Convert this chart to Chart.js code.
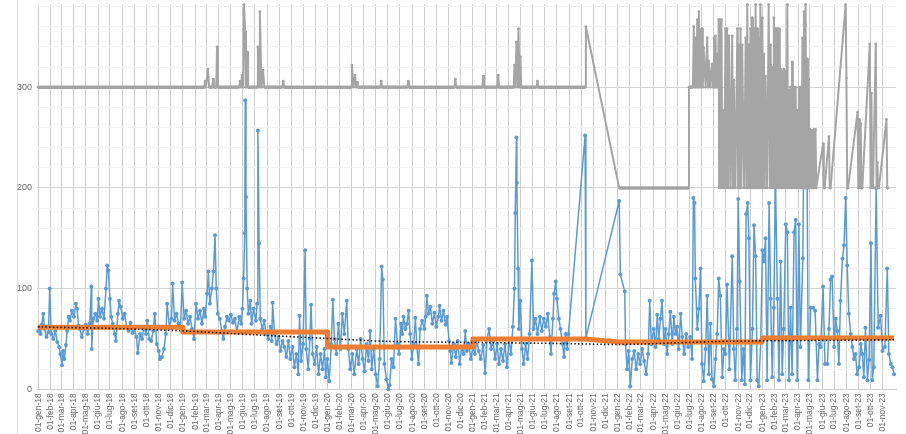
<!DOCTYPE html>
<html><head><meta charset="utf-8">
<script src="https://cdn.jsdelivr.net/npm/chart.js@4.4.1/dist/chart.umd.min.js"></script>
<style>
html,body{margin:0;padding:0;background:#fff;overflow:hidden;width:906px;height:434px;}
#wrap{position:absolute;left:0;top:-6px;width:906px;height:440px;}
</style></head><body>
<div id="wrap"><canvas id="c" width="906" height="440"></canvas></div>
<script>
// ---- tick labels (Italian month abbreviations), first tick 01-gen-18, last 01-nov-23
const monthAbbr = ['gen','feb','mar','apr','mag','giu','lug','ago','set','ott','nov','dic'];
const firstYear = 2018, monthCount = 71;

// ---- blue series: day offset from 01-gen-18, value
const blueDays = [0,3,6,9,13,16,21,26,29,33,38,43,48,53,56,60,63,66,70,73,77,80,85,90,95,98,102,105,110,115,120,125,130,134,135,139,144,149,152,156,161,166,171,174,177,181,184,188,193,196,201,204,208,213,218,223,228,233,238,243,248,251,257,262,267,272,275,280,285,290,294,299,304,307,312,317,322,325,331,336,339,344,349,354,359,363,368,373,378,383,388,393,398,403,408,413,418,
421,426,429,433,438,442,446,449,453,458,463,467,471,476,481,486,491,496,501,507,512,515,518,521,522,524,527,530,535,538,543,549,552,554,557,560,565,570,575,580,586,589,591,596,601,606,611,616,621,626,631,636,641,646,651,656,659,663,668,673,676,681,685,688,692,697,702,707,712,717,722,725,729,734,739,743,747,752,757,762,767,772,778,782,787,792,797,803,808,813,818,823,828,833,837,841,846,851,856,861,866,
869,873,878,883,886,891,896,901,906,910,915,918,921,926,930,934,938,942,947,951,955,959,963,968,974,977,980,984,989,994,999,1004,1009,1012,1017,1022,1027,1031,1036,1039,1042,1048,1053,1058,1063,1068,1073,1077,1081,1086,1091,1096,1101,1106,1111,1116,1122,1127,1132,1137,1142,1147,1152,1157,1162,1167,1172,1177,1182,1187,1192,1197,1201,1203,1206,1207,1210,1212,1216,1220,1224,1229,1234,1239,1245,1249,1254,1259,1265,1270,1275,1280,1285,1290,1293,1298,1301,1305,1308,1313,1317,1322,1326,1330,1334,1337,
1379,1381,1465,1468,1479,
1481,1485,1489,1493,1498,1503,1508,1513,1518,1523,1528,1533,1538,1542,1546,1552,1557,1561,1565,1569,1573,1578,1582,1586,1590,1594,1599,1603,1607,1611,1615,1620,1624,1629,1634,1639,1644,1649,1652,1655,1657,1662,1666,1670,1674,1678,1683,1687,1691,1695,1699,1704,1708,1712,1716,1720,1725,1729,1733,
1737,1743,1750,1754,1758,1762,1765,1769,1774,1778,1782,1785,1789,1792,1796,1801,1805,1809,1813,1817,1822,1826,1830,1834,1838,1843,1847,1851,1855,1859,1864,1868,1872,1876,1880,1885,1889,1893,1897,1901,1906,1910,1914,1918,1922,1928,1933,1937,1939,1942,1948,1954,1959,1965,1969,1973,1979,1984,1990,1994,1998,2002,2007,2011,2015,2019,2023,2028,2032,2036,2040,2044,2049,2053,2057,2061,2065,2070,2074,2078,2082,2086,2091,2095,2100,2103,2107,2113,2118,2124,2129,2135,2141,2145,2150,2154,2158];
const blueVals = [58,62,55,64,75,60,52,57,100,55,50,58,47,42,35,24,38,30,44,58,72,68,78,72,85,80,63,60,52,60,64,55,65,102,40,70,75,68,90,72,80,70,100,123,118,90,72,65,55,48,75,88,82,70,75,62,58,66,56,60,52,36,55,50,62,55,68,50,48,58,75,45,38,30,32,40,55,85,62,70,105,68,75,65,62,106,70,78,65,72,60,50,85,70,78,65,80,
72,95,117,85,100,117,153,100,75,70,58,50,62,72,68,74,66,70,57,72,65,80,110,155,287,191,100,75,88,65,80,68,85,257,145,70,60,68,55,50,62,48,86,55,45,52,38,48,42,32,48,30,42,22,35,15,73,28,45,138,40,20,50,84,35,25,42,15,35,20,40,12,30,8,45,89,50,35,65,40,75,55,88,40,20,35,15,40,25,50,30,18,45,28,58,20,40,15,3,30,122,
109,25,10,0,4,30,22,70,45,35,65,55,72,60,65,78,55,30,45,71,42,25,60,68,60,72,93,75,82,65,76,62,72,83,68,78,64,72,48,38,26,45,32,48,25,42,35,58,38,45,30,42,35,48,38,30,44,16,50,60,40,48,30,45,25,40,28,45,22,50,35,62,100,175,250,205,120,60,88,40,25,45,30,55,128,60,70,55,72,58,70,62,75,52,35,70,95,107,90,70,60,45,32,55,40,55,
252,51,187,114,97,
45,20,38,3,30,38,20,35,25,40,28,15,35,88,45,60,42,74,50,70,88,45,60,35,55,77,45,72,55,62,40,75,52,35,55,42,52,30,190,185,110,60,80,120,25,8,40,93,15,65,10,3,30,55,110,93,12,40,35,
104,20,132,40,9,60,189,107,9,40,5,174,185,150,9,60,163,132,9,3,48,138,127,150,9,185,90,12,81,210,90,9,127,15,60,164,156,9,81,15,156,168,9,164,42,130,362,240,200,9,81,81,78,9,45,42,102,25,25,60,109,112,42,70,58,25,88,130,143,190,123,75,55,42,30,35,15,22,45,35,12,61,9,29,145,9,22,200,61,73,38,42,120,35,25,22,15];

// ---- gray series: day offset, value
const grayDays = [0,419,421,423,428,431,439,441,443,449,451,453,507,509,511,514,517,519,522,524,527,529,531,552,554,557,559,563,567,570,616,618,620,789,791,795,799,802,804,806,863,865,867,931,933,935,1050,1052,1054,1120,1122,1124,1158,1160,1162,1199,1201,1203,1206,1209,1211,1214,1216,1218,1257,1259,1261,1337,1379,1381,1465,1640,
1641,1651,1653,1655,1657,1659,1662,1664,1666,1668,1670,1672,1674,1676,1678,1683,1687,1689,1691,1695,1699,1702,1704,1706,1708,1710,1712,1714,1716,
1717,1719,1721,1723,1725,1727,1730,1733,1735,1737,1740,1742,1746,1750,1752,1754,1758,1763,1765,1767,1769,1771,1773,1775,1780,1784,1786,1788,1790,1792,1794,1796,1798,1800,1802,1805,1807,1809,1811,1813,1815,1817,1819,1821,1823,1826,1828,1830,1832,1834,1838,1842,1845,1847,1849,1851,1853,1855,1857,1859,1861,1863,1866,1868,1870,1872,1874,1876,1878,1880,1882,1884,1887,1889,1891,1893,1895,1897,1899,1901,1903,1905,1908,1910,1912,1914,1916,1918,1920,1922,1925,1927,1929,1931,1933,1935,1937,1939,1941,1943,1945,1947,1950,1952,1954,1956,1958,1960,1962,1979,1981,1983,1994,1996,1998,2036,2038,2040,2042,2066,2068,2070,2072,2074,2076,2078,2097,2099,2101,2103,2105,2112,2114,2116,2118,2120,2139,2141,2143,2158];
const grayVals = [300,300,306,300,318,300,300,308,300,300,340,300,300,306,300,312,300,382,355,300,335,300,300,300,340,300,375,300,317,300,300,306,300,300,322,300,312,300,305,300,300,306,300,300,306,300,300,308,300,300,311,300,300,312,300,300,322,300,345,300,358,300,330,300,300,306,300,300,300,360,200,200,
300,300,360,300,349,300,367,300,375,300,357,300,358,300,339,300,349,300,326,300,323,300,349,300,351,300,333,300,367,
200,367,200,367,200,277,200,358,200,358,200,351,200,351,200,307,200,358,200,342,200,358,200,342,200,349,200,382,200,342,200,358,200,369,200,358,200,382,200,358,200,349,200,382,200,369,200,333,200,311,200,382,200,342,200,320,200,369,200,358,200,358,200,358,200,318,200,316,200,318,200,316,200,382,200,297,200,300,200,325,200,300,200,300,200,277,200,300,200,300,200,349,200,375,200,382,200,328,200,308,200,258,200,257,200,258,200,258,200,244,200,200,251,200,200,382,309,200,200,275,200,268,200,264,200,200,343,200,294,200,200,343,200,225,200,200,268,200,200];

// ---- orange series (yearly level): day offset, value
const orangeDays = [0,364,365,729,730,1095,1096,1337,1379,1381,1465,1468,1479,1825,1826,2158];
const orangeVals = [61.5,61.5,57,57,42,42,50,50,50,50,47,47,47,47,51,51];

// ---- black dotted trend: day offset, value
const trendDays = [0,180,365,550,730,875,1100,1317,1470,1600,1740,1950,2158];
const trendVals = [62,60.5,58,54,50.5,47.7,46.5,45.5,44.5,46,47.7,48.5,49.2];

function pts(d, v){ return d.map((x,i)=>({x:x, y:v[i]})); }
const dayMs = 86400000, base = Date.UTC(firstYear,0,1);
const tickDays = [], tickLabels = {};
for (let m=0; m<monthCount; m++){
  const y = firstYear + Math.floor(m/12), mo = m%12;
  const d = Math.round((Date.UTC(y,mo,1)-base)/dayMs);
  tickDays.push(d);
  tickLabels[d] = '01-' + monthAbbr[mo] + '-' + String(y).slice(2);
}

// faint frame line at the left of the chart (as in the reference)
const leftRule = { id:'leftRule', beforeDraw(chart){
  const ctx = chart.ctx; ctx.save(); ctx.strokeStyle = '#dedede'; ctx.lineWidth = 1;
  ctx.beginPath(); ctx.moveTo(17.5, 0); ctx.lineTo(17.5, chart.height); ctx.stroke(); ctx.restore(); } };

const FONT = "'Liberation Sans', Arial, sans-serif";
new Chart(document.getElementById('c'), {
  type: 'line',
  data: { datasets: [
    { data: pts(trendDays, trendVals), borderColor:'#1a1a1a', borderWidth:1.6, borderDash:[1.5,2.2], pointRadius:0, tension:0.3 },
    { data: pts(orangeDays, orangeVals), borderColor:'#ED7D31', borderWidth:5, pointRadius:0 },
    { data: pts(grayDays, grayVals), borderColor:'#A5A5A5', borderWidth:2, pointRadius:1.4, pointBackgroundColor:'#A5A5A5', pointBorderWidth:0,
      segment:{ borderWidth:(c)=> (c.p0.parsed.y===c.p1.parsed.y) ? 3.5 : 2 } },
    { data: pts(blueDays, blueVals), borderColor:'#5B9BD5', borderWidth:1.5, pointRadius:2, pointBackgroundColor:'#5B9BD5', pointBorderWidth:0 }
  ]},
  plugins:[leftRule],
  options: {
    responsive:false, animation:false, clip:false,
    layout:{ padding:{left:0,right:10,top:0,bottom:0} },
    plugins:{ legend:{display:false}, tooltip:{enabled:false} },
    elements:{ line:{ borderJoinStyle:'round' } },
    scales:{
      x:{ type:'linear', min:-3, max:2163,
        afterBuildTicks:(s)=>{ s.ticks = tickDays.map(v=>({value:v})); },
        afterFit:(s)=>{ s.height = 44.7; },
        grid:{ color:'#cdcdcd', drawTicks:false, lineWidth:1 },
        border:{ color:'#cdcdcd' },
        ticks:{ autoSkip:false, maxRotation:90, minRotation:90, padding:4,
          font:{family:FONT, size:8.5}, color:'#6a6a6a',
          callback:(v)=> tickLabels[v] || '' }
      },
      y:{ min:0, max:382.2,
        afterBuildTicks:(s)=>{ const t=[]; for(let v=0; v<=380; v+=10) t.push({value:v}); s.ticks=t; },
        afterFit:(s)=>{ s.width = 37; },
        grid:{ drawTicks:false, color:(c)=> (c.tick && c.tick.value%50===0) ? '#d4d4d4' : '#f2f2f2' },
        border:{ display:false },
        ticks:{ padding:5, font:{family:FONT, size:9}, color:'#6a6a6a',
          callback:(v)=> (v%50===0 && v<=350) ? String(v) : '' }
      }
    }
  }
});
</script>
</body></html>
